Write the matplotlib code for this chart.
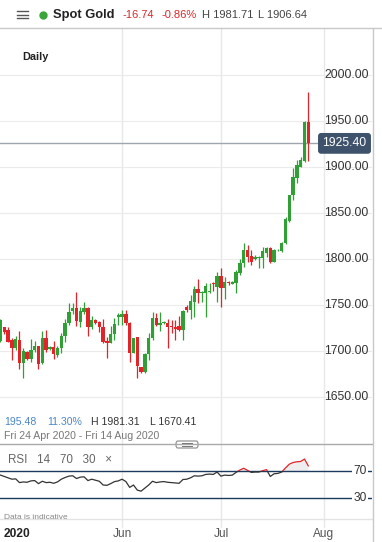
import matplotlib.pyplot as plt
import matplotlib.transforms as transforms
from matplotlib.lines import Line2D
from matplotlib.patches import Rectangle, FancyBboxPatch
import numpy as np
import pandas as pd

plt.rcParams['font.family'] = ['Liberation Sans', 'DejaVu Sans']

# daily candles Fri 24 Apr 2020 - Tue 28 Jul 2020 (IG adds a short Sunday candle each week)
opens = [1711, 1725.7, 1722.5, 1711.6, 1703.2, 1711.6, 1687, 1698.5, 1690.9, 1700.7,
         1705, 1687, 1713.4, 1702, 1704, 1695.3, 1702.5, 1716, 1729.7, 1743,
         1746, 1731, 1741.7, 1746.7, 1726, 1733.3, 1731.5, 1726, 1710.9, 1708.7,
         1717.7, 1736.5, 1737, 1739.9, 1730.5, 1697.8, 1714.5, 1681.9, 1677.2, 1696.4,
         1713.4, 1735.2, 1727.9, 1729.7, 1730.5, 1726.8, 1726.1, 1726.8, 1722.5, 1747.9,
         1744.2, 1753.4, 1766.7, 1763.1, 1763.1, 1764, 1774, 1769.6, 1781.2, 1768.5,
         1775, 1773, 1774, 1785, 1795, 1809.4, 1802.9, 1800, 1800.4, 1800.4,
         1805.8, 1812, 1796.8, 1809, 1808.3, 1816.7, 1841.3, 1869.2, 1887.3, 1900,
         1906.2, 1948.9]
highs = [1735, 1726, 1725.7, 1714, 1716, 1721.4, 1703, 1699.6, 1712.3, 1710.5,
         1705.5, 1721.4, 1722.5, 1705.5, 1711, 1705.5, 1718.8, 1735, 1751.4, 1751.4,
         1763.8, 1748, 1752.9, 1748, 1737.7, 1734, 1732, 1734.8, 1715, 1726.8,
         1736, 1740.6, 1744, 1744, 1731.5, 1713.7, 1714.5, 1682.6, 1697, 1719.6,
         1742.4, 1741, 1742, 1732, 1734, 1733, 1733.3, 1737.8, 1744.2, 1749.7,
         1760.5, 1770.3, 1777.6, 1765.3, 1773.2, 1774, 1775, 1785.9, 1790.3, 1780.5,
         1776, 1776, 1787.7, 1800, 1816.7, 1814.9, 1809.4, 1804, 1803, 1812.3,
         1813, 1813, 1811, 1811, 1818.5, 1844.9, 1869.5, 1898.2, 1907.3, 1910.9,
         1949.6, 1981.5]
lows = [1710, 1718, 1709, 1690, 1701, 1680, 1670.4, 1690, 1688, 1698.5,
        1680, 1686, 1699, 1700.7, 1690.5, 1692.7, 1697.8, 1709.8, 1727.9, 1740.2,
        1727, 1726, 1740, 1716, 1723.5, 1729, 1720.6, 1708, 1692.4, 1708,
        1712, 1727.9, 1728, 1728, 1688, 1697, 1670.8, 1676, 1676, 1689.9,
        1712, 1727, 1721, 1729, 1703.3, 1718.9, 1711.6, 1721, 1711.6, 1742.4,
        1734, 1736.3, 1752.2, 1753.3, 1736.3, 1763, 1764.9, 1753.3, 1747.9, 1755.8,
        1771.4, 1772, 1762.4, 1782, 1791.3, 1796.8, 1793, 1798.6, 1790, 1789.5,
        1802, 1795, 1796, 1808, 1807.6, 1816, 1840, 1863.8, 1882.6, 1900,
        1905.5, 1906.5]
closes = [1733, 1720.6, 1709.8, 1703.2, 1712.3, 1687, 1699.6, 1690.9, 1700.7, 1705,
          1685.9, 1713.4, 1700.7, 1704, 1696.4, 1702.5, 1716, 1729.7, 1741.7, 1746,
          1732.6, 1743, 1746, 1726, 1733.3, 1729.7, 1726, 1709.8, 1708.7, 1718,
          1729, 1738.5, 1740, 1729.7, 1697.8, 1713.4, 1683.7, 1677.2, 1696.4, 1713.4,
          1735.2, 1727.9, 1730.5, 1731, 1726.1, 1725.4, 1723.2, 1722.5, 1743.5, 1744.2,
          1754.4, 1766.7, 1763.1, 1764.2, 1770.3, 1765, 1772, 1781.2, 1768.5, 1775,
          1773.2, 1775, 1785.9, 1795, 1809.4, 1802.2, 1796.8, 1801.5, 1802, 1808.3,
          1812, 1796.8, 1809.4, 1810, 1817.4, 1842.8, 1869.2, 1889.1, 1901.8, 1907.3,
          1948.9, 1925.4]
rsi = [64, 62, 60, 58, 58.5, 53, 54, 53.5, 55.5, 56,
       51.5, 55, 53, 53.5, 52, 54, 58, 60.5, 62.5, 63,
       59, 61, 61.5, 56, 58, 56.5, 55, 49.5, 49, 51.5,
       54.5, 55.5, 58, 54.5, 46, 49.5, 42, 40.5, 45, 49.5,
       55, 53, 54, 54.5, 53.5, 53, 52.5, 52, 57.5, 58,
       60, 63, 62.5, 63, 65, 65.5, 65, 68.5, 62.5, 64,
       63.5, 64, 68, 71.5, 74, 71, 68, 68.5, 68.5, 70.5,
       72, 62, 66, 66.5, 68.5, 74.5, 80, 82.5, 83.5, 84,
       87.5, 77.5]

price_ticks = [1650, 1700, 1750, 1800, 1850, 1900, 1950, 2000]
rsi_levels = [70, 30]
month_names = ['Jun', 'Jul', 'Aug']

green = '#30a036'
red = '#e2232a'

W, H = 382, 542
def fx(px): return px / W
def fy(py): return 1 - py / H

fig = plt.figure(figsize=(3.82, 5.42), dpi=100)
ax = fig.add_axes([0, fy(444), fx(372), (444 - 28) / H])
rax = fig.add_axes([0, fy(519), fx(372), (519 - 448) / H])
for a in (ax, rax):
    a.set_axis_off()
    a.set_xlim(-0.13, 97.76)
ax.set_ylim(1598.6, 2050.8)
rax.set_ylim(-0.3, 103.7)

# trading days incl. sundays, used for the month grid
days = pd.date_range('2020-04-24', '2020-08-14')
days = days[days.dayofweek != 5]
month_idx = [int(np.argmax(days.month == m)) for m in (6, 7, 8)]

vt = transforms.blended_transform_factory(ax.transData, fig.transFigure)
for i, name in zip(month_idx, month_names):
    fig.add_artist(Line2D([i, i], [fy(28), fy(527)], transform=vt, color='#e8e8e8', lw=1, zorder=0))
    fig.text(i, fy(534), name, transform=vt, ha='center', va='center', fontsize=8.6, color='#555555')
fig.text(fx(4), fy(534), '2020', ha='left', va='center', fontsize=8.6, color='#222222', fontweight='bold')

# price panel
ht = transforms.blended_transform_factory(ax.transAxes, ax.transData)
for p in price_ticks:
    ax.axhline(p, color='#ebebeb', lw=0.8, zorder=0)
    ax.text(324 / 372, p, f'{p:.2f}', transform=ht, ha='left', va='center', fontsize=8.8, color='#333333')

x = np.arange(len(opens))
o, h, l, c = map(np.array, (opens, highs, lows, closes))
cols = np.where(c >= o, green, red)
ax.vlines(x, l, h, colors=cols, lw=0.9, zorder=2)
ax.bar(x, np.maximum(np.abs(c - o), 0.9), bottom=np.minimum(o, c), width=0.86,
       color=cols, linewidth=0, zorder=3)

last = closes[-1]
ax.axhline(last, xmax=318 / 372, color='#9da6af', lw=1, zorder=1)
ax.text(344.5 / 372, last, f'{last:.2f}', transform=ht, ha='center', va='center', fontsize=8.8,
        color='white', bbox=dict(boxstyle='round,pad=0.36,rounding_size=0.25', fc='#3f526b', ec='none'))

# rsi panel
for lv in rsi_levels:
    rax.axhline(lv, color='#1c3b5e', lw=1)
    rax.text(360 / 372, lv, str(lv), transform=transforms.blended_transform_factory(rax.transAxes, rax.transData),
             ha='center', va='center', fontsize=8.6, color='#333333',
             bbox=dict(boxstyle='square,pad=0.12', fc='white', ec='none'))
r = np.array(rsi)
rax.fill_between(x, 70, r, where=r > 70, interpolate=True, color='#eeeeee', lw=0)
lo, = rax.plot(x, r, color='#333333', lw=0.9)
lo.set_clip_path(Rectangle((-5, -10), 200, 80, transform=rax.transData))
hi, = rax.plot(x, r, color=red, lw=0.9)
hi.set_clip_path(Rectangle((-5, 70), 200, 100, transform=rax.transData))
fig.text(fx(8), fy(460), 'RSI   14   70   30   \u00d7', ha='left', va='center', fontsize=8.4, color='#666666')

# header
fig.add_artist(Line2D([0, 1], [fy(27.5)] * 2, transform=fig.transFigure, color='#c9c9c9', lw=1))
for yy in (10.7, 14.5, 18.3):
    fig.add_artist(Line2D([fx(17), fx(27.5)], [fy(yy)] * 2, transform=fig.transFigure, color='#555555', lw=1))
fig.add_artist(Line2D([fx(42.7)], [fy(15)], transform=fig.transFigure, marker='o', ms=5, color='#3aa53a', lw=0))
fig.text(fx(53), fy(15), 'Spot Gold', ha='left', va='center', fontsize=9.4, fontweight='bold', color='#222222')
fig.text(fx(123), fy(15), '-16.74', ha='left', va='center', fontsize=8, color='#d9262c')
fig.text(fx(162), fy(15), '-0.86%', ha='left', va='center', fontsize=8, color='#d9262c')
fig.text(fx(202), fy(15), 'H 1981.71', ha='left', va='center', fontsize=8, color='#444444')
fig.text(fx(258), fy(15), 'L 1906.64', ha='left', va='center', fontsize=8, color='#444444')
fig.text(fx(22), fy(57), 'Daily', ha='left', va='center', fontsize=7.8, fontweight='bold', color='#222222')

# range info + separators
fig.text(fx(4), fy(422), '195.48', ha='left', va='center', fontsize=7.6, color='#4a86c5')
fig.text(fx(47), fy(422), '11.30%', ha='left', va='center', fontsize=7.6, color='#4a86c5')
fig.text(fx(91), fy(422), 'H 1981.31', ha='left', va='center', fontsize=7.6, color='#333333')
fig.text(fx(150), fy(422), 'L 1670.41', ha='left', va='center', fontsize=7.6, color='#333333')
fig.text(fx(4), fy(436), 'Fri 24 Apr 2020 - Fri 14 Aug 2020', ha='left', va='center', fontsize=7.6, color='#777777')
fig.add_artist(Line2D([0, fx(372)], [fy(444)] * 2, transform=fig.transFigure, color='#a9a9a9', lw=1))
fig.add_artist(FancyBboxPatch((fx(176), fy(448)), fx(22), 7 / H, boxstyle='round,pad=0,rounding_size=0.005',
                              transform=fig.transFigure, fc='white', ec='#888888', lw=0.8))
for yy in (443.3, 445.5):
    fig.add_artist(Line2D([fx(182), fx(192)], [fy(yy)] * 2, transform=fig.transFigure, color='#777777', lw=0.7))
fig.add_artist(Line2D([0, fx(372)], [fy(519)] * 2, transform=fig.transFigure, color='#e3e3e3', lw=1))
fig.text(fx(4), fy(517.5), 'Data is indicative', ha='left', va='center', fontsize=6, color='#888888')
fig.add_artist(Line2D([fx(372.5)] * 2, [fy(28), 0], transform=fig.transFigure, color='#c8c8c8', lw=1))

fig.savefig('out.png', dpi=100)
